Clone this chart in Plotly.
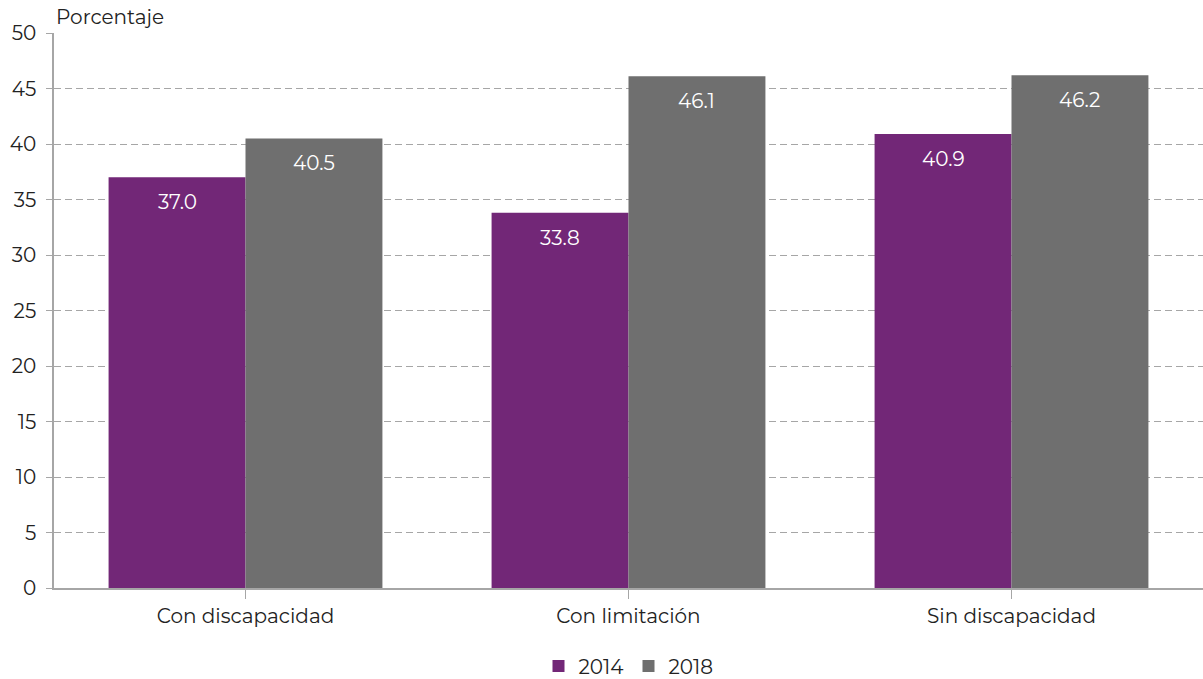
import plotly.graph_objects as go

categories = ["Con discapacidad", "Con limitación", "Sin discapacidad"]
years = ["2014", "2018"]
values_2014 = [37.0, 33.8, 40.9]
values_2018 = [40.5, 46.1, 46.2]
colors = ["#722777", "#6f6f6f"]
y_ticks = [0, 5, 10, 15, 20, 25, 30, 35, 40, 45, 50]

FONT = "Montserrat, 'Open Sans', Lato, sans-serif"
bargap = 0.285
xs = list(range(len(categories)))

fig = go.Figure()
series = [values_2014, values_2018]
for yr, vals, col in zip(years, series, colors):
    fig.add_trace(go.Bar(
        x=xs, y=vals, name=yr, marker=dict(color=col, line=dict(width=0)),
    ))

bw = (1 - bargap) / 2
annotations = []
for k, vals in enumerate(series):
    off = (k - 0.5) * bw
    for i, v in enumerate(vals):
        annotations.append(dict(
            x=i + off, y=v, xref="x", yref="y", text=f"{v:.1f}",
            showarrow=False, yshift=-25, font=dict(color="white", size=20, family=FONT),
        ))
annotations.append(dict(
    x=0, y=1, xref="paper", yref="paper", text="Porcentaje", showarrow=False,
    xanchor="left", yanchor="bottom", yshift=2, font=dict(size=20, color="#222", family=FONT),
))

fig.update_layout(
    width=1203, height=679,
    margin=dict(l=54, r=0, t=33, b=91, autoexpand=False),
    plot_bgcolor="white", paper_bgcolor="white",
    barmode="group", bargap=bargap, bargroupgap=0,
    font=dict(family=FONT, color="#222", size=20),
    showlegend=True,
    legend=dict(orientation="h", x=0.5, xanchor="center", yref="container", y=0.019,
                yanchor="middle", font=dict(size=20), itemwidth=30, tracegroupgap=0),
    annotations=annotations,
    xaxis=dict(
        range=[-0.5, 2.5], tickvals=xs, ticktext=categories, automargin=False,
        showline=True, linecolor="#a6a6a6", linewidth=1.5,
        ticks="outside", tickson="boundaries", ticklen=9, tickcolor="#a6a6a6",
        showgrid=False, tickfont=dict(size=20), zeroline=False,
    ),
    yaxis=dict(
        range=[0, 50], tickvals=y_ticks, showline=True, linecolor="#a6a6a6", linewidth=1.5,
        ticks="outside", ticklen=6, tickcolor="#a6a6a6", automargin=False,
        ticklabelstandoff=6,
        showgrid=True, gridcolor="#a6a6a6", griddash="7px,4px", gridwidth=1,
        zeroline=False, tickfont=dict(size=20),
    ),
)

fig.write_html("out.html", config={"displayModeBar": False},
               post_script="document.body.style.margin='0';document.body.style.overflow='hidden';")
